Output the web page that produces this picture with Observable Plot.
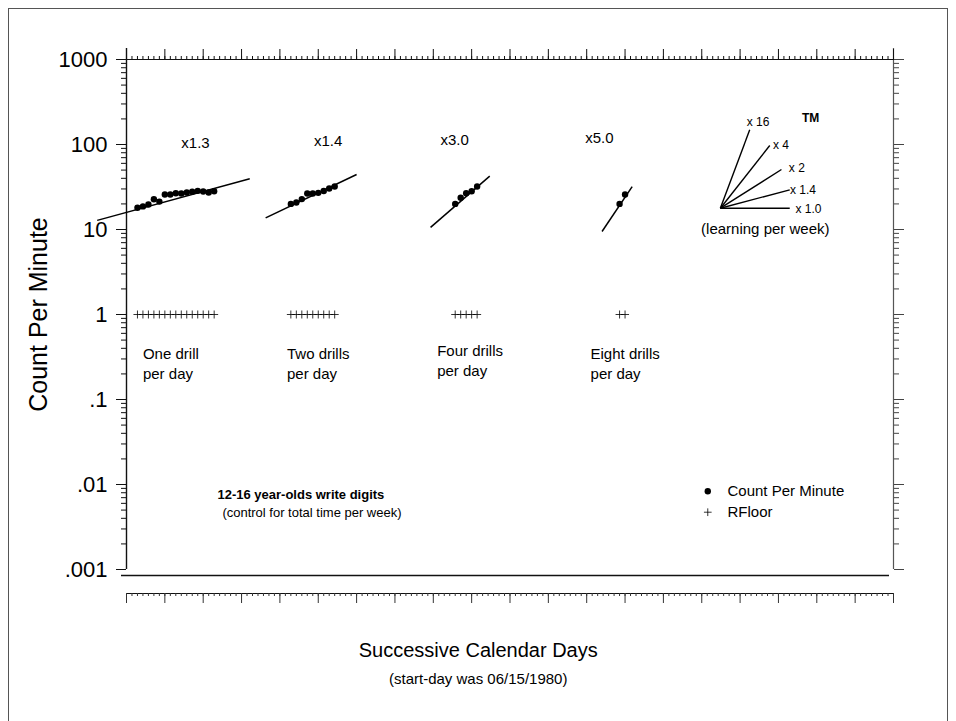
<!DOCTYPE html>
<html><head><meta charset="utf-8">
<script src="https://cdn.jsdelivr.net/npm/d3@7"></script>
<script src="https://cdn.jsdelivr.net/npm/@observablehq/plot@0.6"></script>
<style>
body{margin:0;background:#fff;font-family:"Liberation Sans",Arial,Helvetica,sans-serif;}
#frame{position:absolute;left:8px;top:8px;width:940px;height:760px;border:1px solid #555;box-sizing:border-box;}
#chart{position:absolute;left:0;top:0;}
</style></head><body>
<div id="frame"></div><div id="chart"></div>
<script>
// ---- data ----
const days1 = [2,3,4,5,6,7,8,9,10,11,12,13,14,15,16];
const cpm1  = [18.0,18.7,19.7,22.7,21.3,25.8,25.8,26.7,26.5,27.2,27.8,28.5,28.0,27.2,28.2];
const days2 = [30,31,32,33,34,35,36,37,38];
const cpm2  = [20.0,20.8,22.8,26.5,26.5,27.0,28.4,30.4,32.0];
const days3 = [60,61,62,63,64];
const cpm3  = [20.0,23.6,26.7,28.2,32.0];
const days4 = [90,91];
const cpm4  = [20.0,25.8];
const floorValue = 1;

// celeration lines (start/end)
const celStartDay = [-5.35, 25.4, 55.5, 86.8];
const celStartVal = [12.8, 13.7, 10.6, 9.47];
const celEndDay   = [22.5, 42.0, 66.3, 92.3];
const celEndVal   = [39.5, 44.4, 42.4, 32.0];
const celLabels   = ["x1.3","x1.4","x3.0","x5.0"];
const celLabelDay = [12.6, 36.8, 59.9, 86.3];
const celLabelVal = [104, 108, 113, 118];

const drillLabels = ["One drill\nper day","Two drills\nper day","Four drills\nper day","Eight drills\nper day"];
const drillDay = [3.0, 29.3, 56.7, 84.7];
const drillVal = [0.272, 0.272, 0.298, 0.272];

// celeration fan (learning per week)
const fanOriginDay = 108.4, fanOriginVal = 17.8;
const fanEndDay = [113.76, 117.41, 119.55, 121.06, 121.06];
const fanEndVal = [149, 97.2, 50.8, 29.3, 17.8];
const fanLabels = ["x 16","x 4","x 2","x 1.4","x 1.0"];
const fanLabelDay = [113.2, 118.0, 120.9, 121.1, 122.1];
const fanLabelVal = [183, 97, 52.6, 29.3, 17.2];

// axis ticks
const decadeTicks = [0.001,0.01,0.1,1,10,100,1000];
const decadeLabels = [".001",".01",".1","1","10","100","1000"];
const minorTicks = decadeTicks.slice(0,-1).flatMap(d => [2,3,4,5,6,7,8,9].map(k => d*k));
const weekTicks = d3.range(0, 141, 7);
const dayTicks = d3.range(0, 141);

// legend
const legendLabels = ["Count Per Minute","RFloor"];

// ---- build tables ----
const cpm = [
  ...days1.map((d,i)=>({day:d, v:cpm1[i]})),
  ...days2.map((d,i)=>({day:d, v:cpm2[i]})),
  ...days3.map((d,i)=>({day:d, v:cpm3[i]})),
  ...days4.map((d,i)=>({day:d, v:cpm4[i]}))
];
const floor = cpm.map(d => ({day:d.day, v:floorValue}));
const cel = celLabels.map((l,i)=>({x1:celStartDay[i], y1:celStartVal[i], x2:celEndDay[i], y2:celEndVal[i], label:l, lx:celLabelDay[i], ly:celLabelVal[i]}));
const drills = drillLabels.map((l,i)=>({label:l, x:drillDay[i], y:drillVal[i]}));
const fan = fanLabels.map((l,i)=>({label:l, x2:fanEndDay[i], y2:fanEndVal[i], lx:fanLabelDay[i], ly:fanLabelVal[i]}));
const fmt = v => decadeLabels[decadeTicks.indexOf(v)];
const blank = () => "";

const chart = Plot.plot({
  width: 956, height: 721,
  marginLeft: 126, marginRight: 63, marginTop: 59, marginBottom: 152,
  style: {fontFamily: '"Liberation Sans", Arial, Helvetica, sans-serif', fontSize: "15px", background: "transparent"},
  x: {domain: [0, 140], axis: null},
  y: {type: "log", domain: [0.001, 1000], axis: null},
  marks: [
    // frame lines
    Plot.ruleX([0], {insetTop: -11, stroke: "#111", strokeWidth: 1.4}),
    Plot.ruleX([140], {insetTop: -11, stroke: "#555", strokeWidth: 1.2}),
    Plot.ruleY([1000], {stroke: "#111", strokeWidth: 1.2}),
    Plot.ruleY([0.001], {dy: 6, insetLeft: -5, insetRight: 4, stroke: "#111", strokeWidth: 1.4}),
    Plot.ruleY([0.001], {dy: 24, stroke: "#111", strokeWidth: 1.2}),
    // left axis
    Plot.axisY(decadeTicks, {anchor: "left", tickSize: 10, tickPadding: 9, tickFormat: fmt, fontSize: 22, label: null, stroke: "#111"}),
    Plot.axisY(minorTicks, {anchor: "left", tickSize: 5, tickFormat: blank, label: null, stroke: "#111"}),
    // right axis
    Plot.axisY(decadeTicks, {anchor: "right", tickSize: 10, tickFormat: blank, label: null, stroke: "#444"}),
    Plot.axisY(minorTicks, {anchor: "right", tickSize: 5, tickFormat: blank, label: null, stroke: "#444"}),
    // top axis
    Plot.axisX(weekTicks, {anchor: "top", tickSize: 11, tickFormat: blank, label: null, stroke: "#111"}),
    Plot.axisX(dayTicks, {anchor: "top", tickSize: 4, tickFormat: blank, label: null, stroke: "#111"}),
    // bottom axis (lowered)
    Plot.axisX(weekTicks, {anchor: "bottom", tickSize: 10, dy: 24, tickFormat: blank, label: null, stroke: "#333"}),
    Plot.axisX(dayTicks, {anchor: "bottom", tickSize: 3, dy: 24, tickFormat: blank, label: null, stroke: "#333"}),
    // celeration lines
    Plot.link(cel, {x1: "x1", y1: "y1", x2: "x2", y2: "y2", stroke: "black", strokeWidth: 1.5}),
    Plot.text(cel, {x: "lx", y: "ly", text: "label", fontSize: 15}),
    // data
    Plot.dot(cpm, {x: "day", y: "v", r: 3.2, fill: "black"}),
    Plot.dot(floor, {x: "day", y: "v", symbol: "plus", r: 2.7, stroke: "black", strokeWidth: 0.8}),
    // drill labels
    Plot.text(drills, {x: "x", y: "y", text: "label", textAnchor: "start", lineAnchor: "middle", lineHeight: 1.35, fontSize: 15}),
    // fan
    Plot.link(fan, {x1: () => fanOriginDay, y1: () => fanOriginVal, x2: "x2", y2: "y2", stroke: "black", strokeWidth: 1.4}),
    Plot.text(fan, {x: "lx", y: "ly", text: "label", textAnchor: "start", fontSize: 12}),
    Plot.text(["TM"], {x: () => 123.3, y: () => 206, text: d => d, textAnchor: "start", fontSize: 12, fontWeight: "bold"}),
    Plot.text(["(learning per week)"], {x: () => 116.6, y: () => 10.2, text: d => d, fontSize: 15}),
    // study note
    Plot.text(["12-16 year-olds write digits"], {x: () => 16.6, y: () => 0.00762, text: d => d, textAnchor: "start", fontSize: 13, fontWeight: "bold"}),
    Plot.text(["(control for total time per week)"], {x: () => 17.5, y: () => 0.00469, text: d => d, textAnchor: "start", fontSize: 13}),
    // legend
    Plot.dot([legendLabels[0]], {x: () => 106.1, y: () => 0.00834, r: 3.2, fill: "black"}),
    Plot.dot([legendLabels[1]], {x: () => 106.1, y: () => 0.00472, symbol: "plus", r: 2.6, stroke: "black", strokeWidth: 0.8}),
    Plot.text([legendLabels[0]], {x: () => 109.7, y: () => 0.00834, text: d => d, textAnchor: "start", fontSize: 15}),
    Plot.text([legendLabels[1]], {x: () => 109.7, y: () => 0.00472, text: d => d, textAnchor: "start", fontSize: 15}),
    // axis titles
    Plot.text(["Count Per Minute"], {y: () => 1, frameAnchor: "left", textAnchor: "middle", dx: -88, rotate: -90, text: d => d, fontSize: 25}),
    Plot.text(["Successive Calendar Days"], {x: () => 64.2, frameAnchor: "bottom", dy: 87, text: d => d, fontSize: 20}),
    Plot.text(["(start-day was 06/15/1980)"], {x: () => 64.2, frameAnchor: "bottom", dy: 114, text: d => d, fontSize: 15})
  ]
});
document.getElementById("chart").appendChild(chart);
</script></body></html>
